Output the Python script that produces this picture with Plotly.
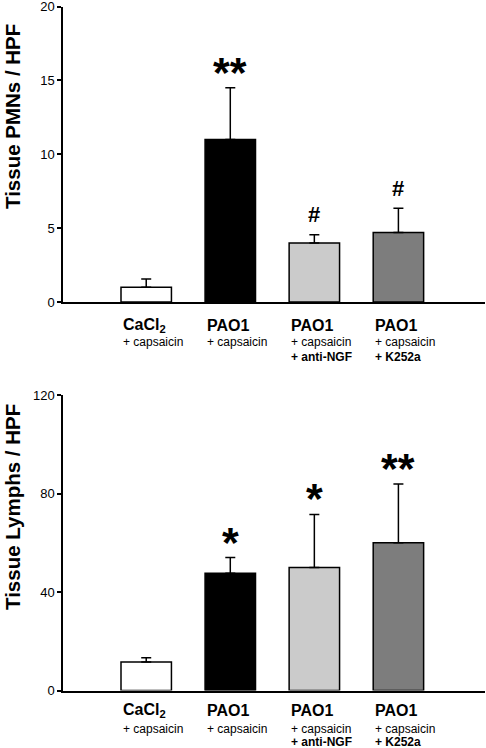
import plotly.graph_objects as go

# ---- data ----
categories = ["CaCl2", "PAO1", "PAO1 anti-NGF", "PAO1 K252a"]
label_main = ["CaCl<sub>2</sub>", "PAO1", "PAO1", "PAO1"]
label_sub1 = ["+ capsaicin", "+ capsaicin", "+ capsaicin", "+ capsaicin"]
label_sub2 = ["", "", "<b>+ anti-NGF</b>", "<b>+ K252a</b>"]
bar_colors = ["#ffffff", "#000000", "#cbcbcb", "#7d7d7d"]

pmn_mean = [1.0, 11.0, 4.0, 4.7]
pmn_sem = [0.55, 3.5, 0.55, 1.65]
pmn_sig = ["", "**", "#", "#"]

lymph_mean = [11.6, 47.6, 49.9, 60.0]
lymph_sem = [1.7, 6.4, 21.6, 23.9]
lymph_sig = ["", "*", "*", "**"]

pmn_ticks = [0, 5, 10, 15, 20]
lymph_ticks = [0, 40, 80, 120]

FONT = "Liberation Sans, Arial, sans-serif"
W, H = 486, 748

fig = go.Figure()

def add_bars(mean, sem, xa, ya):
    fig.add_trace(go.Bar(
        x=categories, y=mean, xaxis=xa, yaxis=ya,
        width=0.6,
        marker=dict(color=bar_colors, line=dict(color="black", width=1.5)),
        error_y=dict(type="data", symmetric=False, array=sem,
                     arrayminus=[0] * len(sem), color="black",
                     thickness=1.5, width=5),
        showlegend=False, hoverinfo="skip",
    ))

add_bars(pmn_mean, pmn_sem, "x", "y")
add_bars(lymph_mean, lymph_sem, "x2", "y2")

xcommon = dict(type="category", range=[-0.99, 4.03], showline=True,
               linecolor="black", linewidth=1.5, ticks="",
               showticklabels=False, showgrid=False, zeroline=False,
               fixedrange=True)
ycommon = dict(showline=True, linecolor="black", linewidth=1.5,
               ticks="outside", ticklen=4, tickwidth=1.5, tickcolor="black",
               showgrid=False, zeroline=False, automargin=False,
               ticklabeloverflow="allow",
               tickfont=dict(family=FONT, size=13, color="black"))

top_dom = [(H - 302) / H, (H - 6.5) / H]
bot_dom = [(H - 690.5) / H, (H - 395) / H]

fig.update_layout(
    width=W, height=H, autosize=False,
    margin=dict(l=63, r=1, t=0, b=0, pad=0),
    paper_bgcolor="white", plot_bgcolor="white",
    bargap=0.4,
    xaxis=dict(**xcommon, anchor="y"),
    yaxis=dict(**ycommon, domain=top_dom, range=[0, 20], tickvals=pmn_ticks),
    xaxis2=dict(**xcommon, anchor="y2"),
    yaxis2=dict(**ycommon, domain=bot_dom, range=[0, 120], tickvals=lymph_ticks),
)

ann = []

def labels(xr, yr, offs):
    for i, c in enumerate(categories):
        lines = [(f"<b>{label_main[i]}</b>", 16, offs[0]),
                 (label_sub1[i], 12, offs[1]),
                 (label_sub2[i], 12, offs[2])]
        for txt, sz, off in lines:
            if not txt:
                continue
            ann.append(dict(x=c, y=0, xref=xr, yref=yr, text=txt,
                            showarrow=False, xanchor="left", yanchor="middle",
                            xshift=-25.5, yshift=-off, align="left",
                            font=dict(family=FONT, size=sz, color="black")))

labels("x", "y", [23, 40, 55])
labels("x2", "y2", [20, 38, 51.5])

def sig(means, sems, sigs, xr, yr):
    for i, c in enumerate(categories):
        s = sigs[i]
        if not s:
            continue
        big = s.startswith("*")
        ann.append(dict(x=c, y=means[i] + sems[i], xref=xr, yref=yr,
                        text=f"<b>{s}</b>", showarrow=False,
                        xanchor="center", yanchor="middle",
                        yshift=(16 if big else 20),
                        font=dict(family=FONT, size=(43 if big else 22),
                                  color="black")))

sig(pmn_mean, pmn_sem, pmn_sig, "x", "y")
sig(lymph_mean, lymph_sem, lymph_sig, "x2", "y2")

title_x = (13 - 63) / (W - 63 - 1)
ann.append(dict(x=title_x, y=(H - 117) / H, xref="paper", yref="paper",
                xanchor="center", yanchor="middle", textangle=-90,
                text="<b>Tissue PMNs / HPF</b>", showarrow=False,
                font=dict(family=FONT, size=20.5, color="black")))
ann.append(dict(x=title_x, y=(H - 507) / H, xref="paper", yref="paper",
                xanchor="center", yanchor="middle", textangle=-90,
                text="<b>Tissue Lymphs / HPF</b>", showarrow=False,
                font=dict(family=FONT, size=20.5, color="black")))

fig.update_layout(annotations=ann)
fig.write_html("out.html", config={"responsive": False, "displayModeBar": False},
               post_script="document.body.style.margin='0';")
